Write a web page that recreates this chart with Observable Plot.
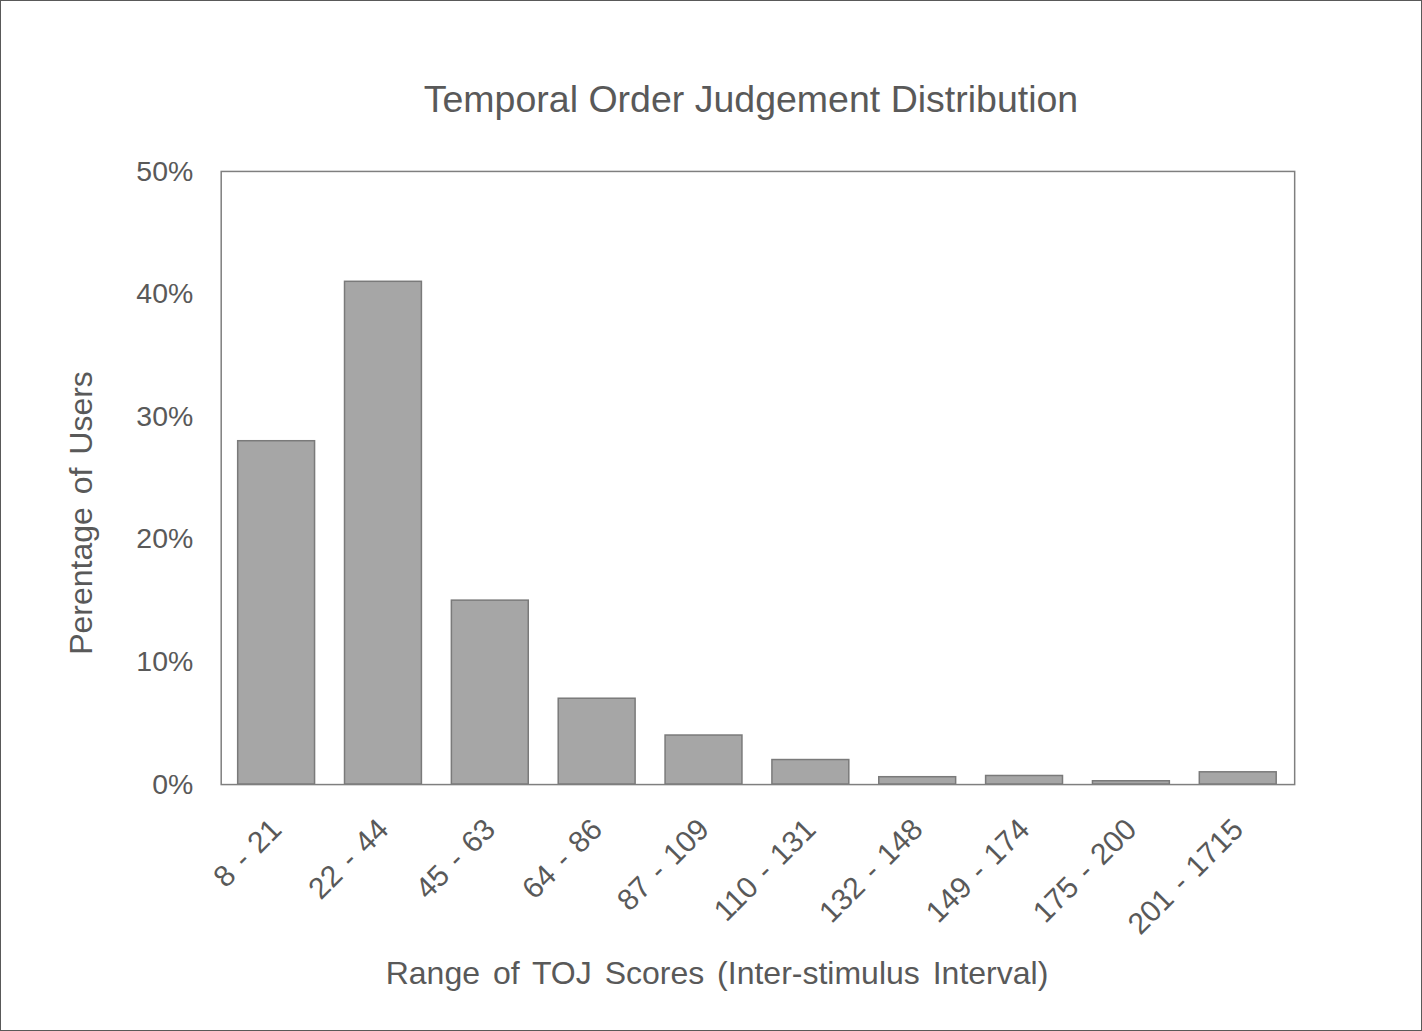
<!DOCTYPE html>
<html>
<head>
<meta charset="utf-8">
<script src="https://cdn.jsdelivr.net/npm/d3@7"></script>
<script src="https://cdn.jsdelivr.net/npm/@observablehq/plot@0.6"></script>
<style>
  html, body { margin: 0; padding: 0; background: #fff; }
  #wrap { position: relative; width: 1422px; height: 1031px; box-sizing: border-box; border: 1.5px solid #595959; overflow: hidden; font-family: "Liberation Sans", Arial, sans-serif; color: #595959; }
  #title { position: absolute; left: 250px; width: 1000px; top: 75px; text-align: center; font-size: 37.5px; line-height: 46px; }
  #xlabel { position: absolute; left: 216px; width: 1000px; top: 952px; text-align: center; font-size: 32px; line-height: 40px; word-spacing: 4px; }
  #ylabel { position: absolute; left: 80px; top: 512px; width: 400px; margin-left: -200px; margin-top: -20px; text-align: center; font-size: 32px; line-height: 40px; transform: rotate(-90deg); word-spacing: 4px; }
  #chart { position: absolute; left: 0; top: 130px; }
</style>
</head>
<body>
<div id="wrap">
  <div id="title">Temporal Order Judgement Distribution</div>
  <div id="chart"></div>
  <div id="xlabel">Range of TOJ Scores (Inter-stimulus Interval)</div>
  <div id="ylabel">Perentage of Users</div>
</div>
<script>
const categories = ["8 - 21", "22 - 44", "45 - 63", "64 - 86", "87 - 109", "110 - 131", "132 - 148", "149 - 174", "175 - 200", "201 - 1715"];
const percentages = [28, 41, 15, 7, 4, 2, 0.6, 0.7, 0.27, 1.0];
const yTicks = [0, 10, 20, 30, 40, 50];

const data = categories.map((c, i) => ({range: c, pct: percentages[i]}));

const chart = Plot.plot({
  width: 1422,
  height: 901,
  marginTop: 40,
  marginLeft: 220,
  marginRight: 127,
  marginBottom: 247,
  style: {fontFamily: "'Liberation Sans', Arial, sans-serif", fontSize: "28px", color: "#595959", background: "transparent"},
  x: {domain: categories, paddingInner: 0.28, paddingOuter: 0.14, label: null},
  y: {domain: [0, 50], label: null},
  marks: [
    Plot.barY(data, {x: "range", y: "pct", fill: "#a6a6a6", stroke: "#7a7a7a", strokeWidth: 1.5}),
    Plot.frame({stroke: "#7f7f7f", strokeWidth: 1.5}),
    Plot.axisY({ticks: yTicks, tickFormat: d => d + "%", tickSize: 0, tickPadding: 28, label: null, fontSize: 28.5}),
    Plot.axisX({tickSize: 0, tickRotate: -45, tickPadding: 40, label: null, fontSize: 30, tickFormat: d => d.replace(" - ", " \u200A-\u200A ")})
  ]
});
document.getElementById("chart").appendChild(chart);
</script>
</body>
</html>
